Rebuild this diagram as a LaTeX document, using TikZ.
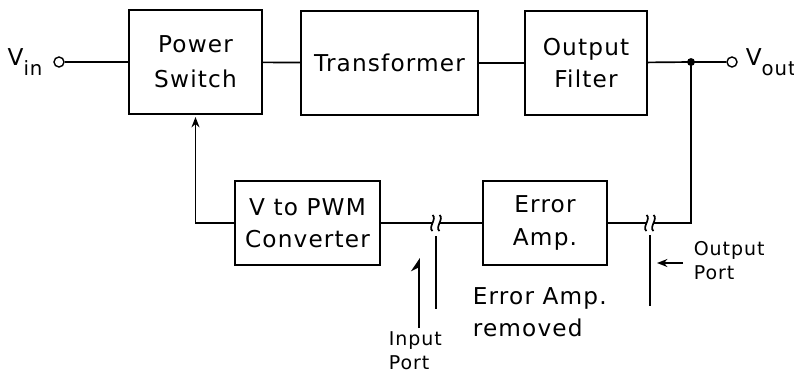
\documentclass[tikz,border=0pt]{standalone}
\usepackage{fontspec}
\setmainfont{DejaVu Sans}[LetterSpace=5]
\usepackage{tikz}
\usetikzlibrary{arrows.meta,positioning}

\newcommand{\subtxt}[1]{\raisebox{-7pt}{\fontsize{14}{14}\selectfont #1}}

\begin{document}
\begin{tikzpicture}[
  x=0.025cm, y=-0.025cm,
  >={Stealth[length=2.6mm,width=2mm]},
  line width=1.2pt,
  block/.style={draw, align=center, inner sep=0pt, font=\fontsize{16.5}{23}\selectfont},
  term/.style={draw, circle, fill=white, minimum size=0.25cm, inner sep=0pt, line width=1pt},
  lbl/.style={align=left, inner sep=0pt, font=\fontsize{16.5}{22.5}\selectfont},
  portlbl/.style={align=left, inner sep=0pt, font=\fontsize{13.5}{17}\selectfont},
]
\useasboundingbox (0,0) rectangle (794,377);

% Forward path
\node[block, minimum width=3.325cm, minimum height=2.6cm, font=\fontsize{16.5}{25}\selectfont] (psw) at (195.5,62) {Power\\Switch};
\node[block, minimum width=4.425cm, minimum height=2.6cm] (xfmr) at (389.5,63) {Transformer};
\node[block, minimum width=3.05cm, minimum height=2.6cm] (ofilt) at (586,63) {Output\\Filter};

% Terminals
\node[term] (vin) at (59,62) {};
\node[lbl, left=0.25cm of vin] (vinlbl) {V\subtxt{in}};
\node[term] (vout) at (732,62) {};
\node[lbl, right=0.18cm of vout] (voutlbl) {V\subtxt{out}};
\coordinate (junc) at (691,62);
\fill (junc) circle (2.8pt);

\draw (vin) -- (psw);
\draw (psw) -- (xfmr);
\draw (xfmr) -- (ofilt);
\draw (ofilt) -- (junc) -- (vout);

% Feedback path
\node[block, minimum width=3.625cm, minimum height=2.1cm] (conv) at (307.5,223) {V to PWM\\Converter};
\node[block, minimum width=3.1cm, minimum height=2.1cm] (amp) at (545,223) {Error\\Amp.};

\coordinate (brkAl) at (432.5,223);
\coordinate (brkAr) at (439.5,223);
\coordinate (brkBl) at (646.5,223);
\coordinate (brkBr) at (653.5,223);

\draw (conv.east) -- (brkAl);
\draw (brkAr) -- (amp.west);
\draw (amp.east) -- (brkBl);
\draw (brkBr) -| (junc);
\draw[->, shorten >=1.5pt] (conv.west) -| (psw.south);

% Line breaks
\foreach \bx in {432.5,439.5,646.5,653.5} {
  \draw (\bx,215) .. controls +(5,3.5) and +(-5,-3.5) .. (\bx,231);
}

% Ports
\draw (436,236) -- (436,309);
\draw (650,235) -- (650,306);
\coordinate (inarr) at (419,328);
\coordinate (inarrtip) at (419,258);
\draw[-{Stealth[left,length=3mm,width=4mm]}] (inarr) -- (inarrtip);
\coordinate (outarr) at (683,263);
\coordinate (outarrtip) at (657,263);
\draw[->] (outarr) -- (outarrtip);

% Annotations
\node[portlbl, anchor=north west] (inlbl) at (388,331) {Input\\Port};
\node[portlbl, anchor=north west] (outlbl) at (693,241) {Output\\Port};
\node[lbl, anchor=north west] (rmlbl) at (472,287) {Error Amp.\\removed};
\end{tikzpicture}
\end{document}
